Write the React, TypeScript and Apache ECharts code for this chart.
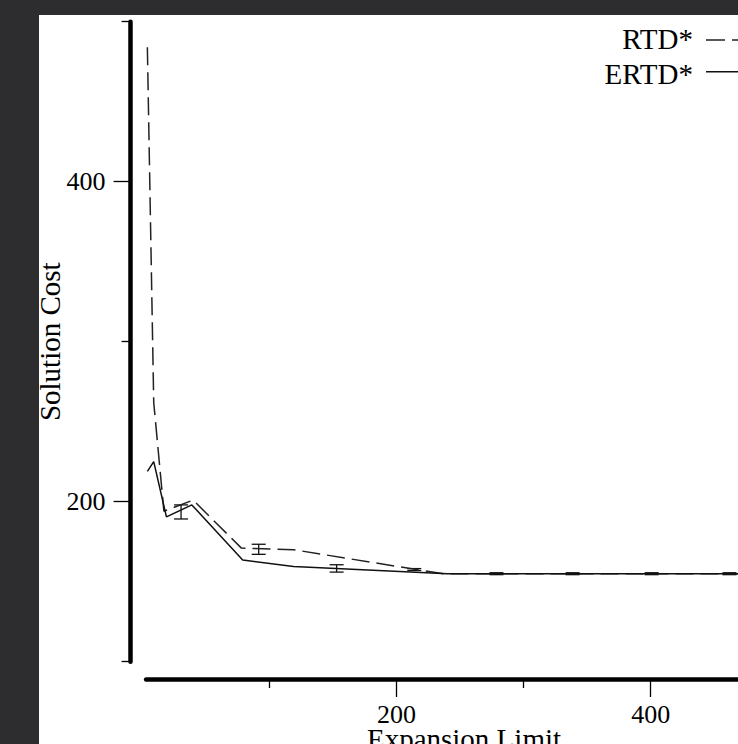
import React, { useEffect, useRef } from "react";
import * as echarts from "echarts";

// ---- data ----
const rtdX = [4, 9, 17, 40, 78, 119, 217, 237, 280, 340, 400, 460, 505];
const rtdY = [484, 262, 194, 201, 171, 170, 157.4, 155, 155, 155, 155, 155, 155];
const ertdX = [4, 9, 19, 39, 79, 119, 240, 280, 340, 400, 460, 505];
const ertdY = [219, 225, 190.5, 198, 163.6, 159.5, 155, 155, 155, 155, 155, 155];
const errX = [30.5, 91.6, 152.9, 214, 278.7, 338.6, 400.8, 462];
const errLow = [189.2, 167.1, 156, 157, 154.4, 154.4, 154.4, 154.4];
const errHigh = [198, 173.4, 160.6, 158.2, 155.6, 155.6, 155.6, 155.6];
const xMajorTicks = [200, 400];
const xMinorTicks = [100, 300, 500];
const yMajorTicks = [200, 400];
const yMinorTicks = [100, 300, 500];
const seriesNames = ["RTD*", "ERTD*"];

const FONT = "'Liberation Serif', 'DejaVu Serif', serif";
const OX = 39; // page offset of white area
const OY = 15;

export default function App() {
  const ref = useRef<HTMLDivElement>(null);
  useEffect(() => {
    if (!ref.current) return;
    const chart = echarts.init(ref.current, undefined, { renderer: "svg" });
    const ink = "#111";
    const axisCommon = (min: number, max: number) => ({
      type: "value" as const,
      min,
      max,
      splitLine: { show: false },
    });
    const option: any = {
      animation: false,
      backgroundColor: "#ffffff",
      grid: { left: 146.1 - OX, top: 21.7 - OY, width: 638, height: 640, containLabel: false },
      xAxis: [
        {
          ...axisCommon(3, 505),
          position: "bottom",
          offset: 17.3,
          axisLine: { show: true, lineStyle: { color: "#000", width: 4.5 } },
          axisTick: { show: true, customValues: xMajorTicks, length: 18, lineStyle: { color: "#000", width: 1.3 } },
          axisLabel: { show: true, customValues: xMajorTicks, margin: 22, fontFamily: FONT, fontSize: 26, color: "#000" },
        },
        {
          ...axisCommon(3, 505),
          position: "bottom",
          offset: 17.3,
          axisLine: { show: false },
          axisTick: { show: true, customValues: xMinorTicks, length: 9, lineStyle: { color: "#000", width: 1.3 } },
          axisLabel: { show: false },
        },
      ],
      yAxis: [
        {
          ...axisCommon(100, 500),
          position: "left",
          offset: 15.5,
          axisLine: { show: true, lineStyle: { color: "#000", width: 4.5 } },
          axisTick: { show: true, customValues: yMajorTicks, length: 17, lineStyle: { color: "#000", width: 1.3 } },
          axisLabel: { show: true, customValues: yMajorTicks, margin: 25, fontFamily: FONT, fontSize: 26, color: "#000" },
        },
        {
          ...axisCommon(100, 500),
          position: "left",
          offset: 15.5,
          axisLine: { show: false },
          axisTick: { show: true, customValues: yMinorTicks, length: 9, lineStyle: { color: "#000", width: 1.3 } },
          axisLabel: { show: false },
        },
      ],
      series: [
        {
          name: seriesNames[0],
          type: "line",
          xAxisIndex: 0,
          yAxisIndex: 0,
          symbol: "none",
          data: rtdX.map((x, i) => [x, rtdY[i]]),
          lineStyle: { color: "#222", width: 1.5, type: [18, 7] },
        },
        {
          name: seriesNames[1],
          type: "line",
          xAxisIndex: 0,
          yAxisIndex: 0,
          symbol: "none",
          data: ertdX.map((x, i) => [x, ertdY[i]]),
          lineStyle: { color: "#111", width: 1.5 },
        },
        {
          type: "custom",
          xAxisIndex: 0,
          yAxisIndex: 0,
          encode: { x: 0, y: [1, 2] },
          data: errX.map((x, i) => [x, errLow[i], errHigh[i]]),
          renderItem: (_p: any, api: any) => {
            const x = api.value(0);
            const a = api.coord([x, api.value(1)]);
            const b = api.coord([x, api.value(2)]);
            const w = 7;
            const st = { stroke: ink, lineWidth: 1.3 };
            return {
              type: "group",
              children: [
                { type: "line", shape: { x1: a[0], y1: a[1], x2: b[0], y2: b[1] }, style: st },
                { type: "line", shape: { x1: a[0] - w, y1: a[1], x2: a[0] + w, y2: a[1] }, style: st },
                { type: "line", shape: { x1: b[0] - w, y1: b[1], x2: b[0] + w, y2: b[1] }, style: st },
              ],
            };
          },
        },
      ],
      graphic: [
        {
          type: "text",
          x: 50 - OX,
          y: 341.7 - OY,
          rotation: Math.PI / 2,
          style: {
            text: "Solution Cost",
            fill: "#000",
            font: `29px ${FONT}`,
            align: "center",
            verticalAlign: "middle",
            textAlign: "center",
            textVerticalAlign: "middle",
          },
        },
        {
          type: "text",
          x: 464 - OX,
          y: 724 - OY,
          style: {
            text: "Expansion Limit",
            fill: "#000",
            font: `29px ${FONT}`,
            align: "center",
            verticalAlign: "top",
            textAlign: "center",
            textVerticalAlign: "top",
          },
        },
        {
          type: "text",
          x: 693 - OX,
          y: 38.5 - OY,
          style: {
            text: seriesNames[0],
            fill: "#000",
            font: `29px ${FONT}`,
            align: "right",
            verticalAlign: "middle",
            textAlign: "right",
            textVerticalAlign: "middle",
          },
        },
        {
          type: "text",
          x: 693 - OX,
          y: 73.5 - OY,
          style: {
            text: seriesNames[1],
            fill: "#000",
            font: `29px ${FONT}`,
            align: "right",
            verticalAlign: "middle",
            textAlign: "right",
            textVerticalAlign: "middle",
          },
        },
        {
          type: "line",
          shape: { x1: 706 - OX, y1: 40 - OY, x2: 770 - OX, y2: 40 - OY },
          style: { stroke: "#222", lineWidth: 1.5, lineDash: [19, 7] },
        },
        {
          type: "line",
          shape: { x1: 706 - OX, y1: 71.7 - OY, x2: 770 - OX, y2: 71.7 - OY },
          style: { stroke: "#111", lineWidth: 1.5 },
        },
      ],
    };
    chart.setOption(option);
    return () => chart.dispose();
  }, []);

  return (
    <div
      style={{
        position: "fixed",
        left: 0,
        top: 0,
        width: 738,
        height: 744,
        overflow: "hidden",
        background: "#2d2d2f",
      }}
    >
      <div
        ref={ref}
        style={{ position: "absolute", left: OX, top: OY, width: 820, height: 744 - OY, background: "#fff" }}
      />
    </div>
  );
}
